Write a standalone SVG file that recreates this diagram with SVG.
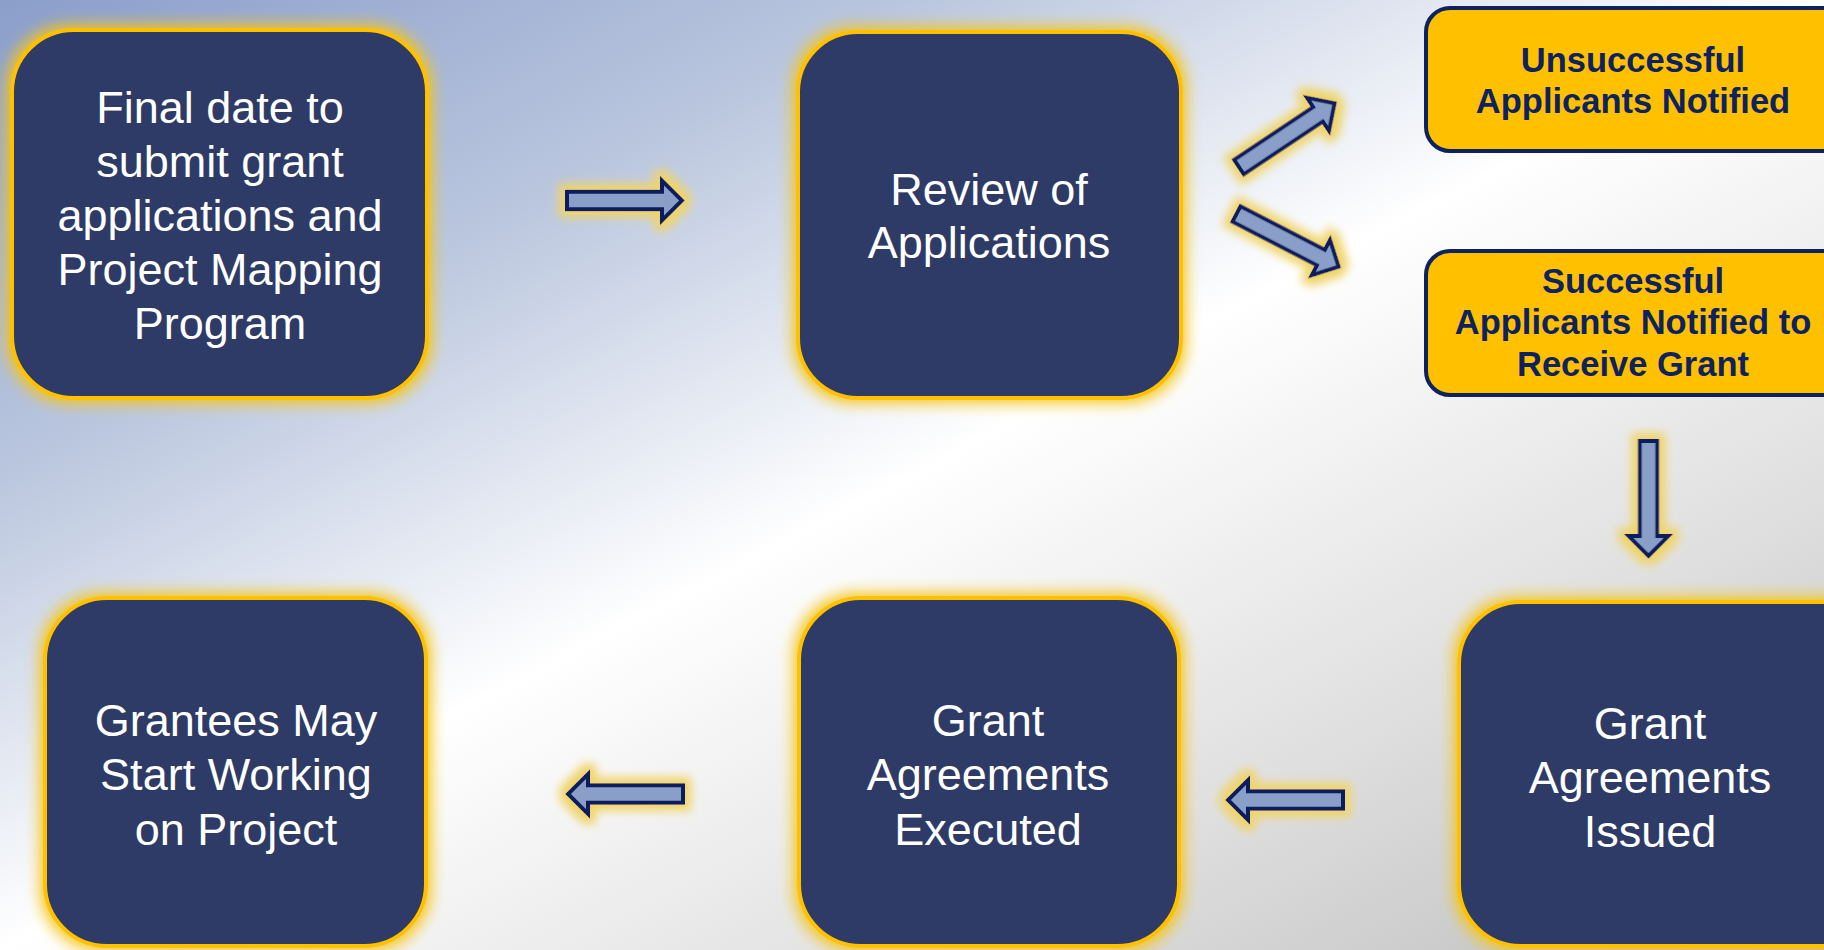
<svg xmlns="http://www.w3.org/2000/svg" width="1824" height="950" viewBox="0 0 1824 950">
  <defs>
    <linearGradient id="bg" x1="0" y1="0" x2="1" y2="1">
      <stop offset="0" stop-color="#8b9ecb"/>
      <stop offset="0.25" stop-color="#bac6de"/>
      <stop offset="0.5" stop-color="#ffffff"/>
      <stop offset="0.75" stop-color="#e0e0e0"/>
      <stop offset="1" stop-color="#bdbdbd"/>
    </linearGradient>
    <filter id="glow" x="-20%" y="-20%" width="140%" height="140%">
      <feMorphology in="SourceAlpha" operator="dilate" radius="4" result="d"/>
      <feGaussianBlur in="d" stdDeviation="7" result="b"/>
      <feFlood flood-color="#f5c518" flood-opacity="0.9"/>
      <feComposite in2="b" operator="in" result="g"/>
      <feMerge>
        <feMergeNode in="g"/>
        <feMergeNode in="SourceGraphic"/>
      </feMerge>
    </filter>
    <filter id="aglow" x="-50%" y="-100%" width="200%" height="300%">
      <feMorphology in="SourceAlpha" operator="dilate" radius="6" result="d"/>
      <feGaussianBlur in="d" stdDeviation="5" result="b"/>
      <feFlood flood-color="#f0d468" flood-opacity="1"/>
      <feComposite in2="b" operator="in" result="g"/>
      <feMerge>
        <feMergeNode in="g"/>
        <feMergeNode in="SourceGraphic"/>
      </feMerge>
    </filter>
    <path id="arr" d="M0,-8.75 H95 V-20 L115,0 L95,20 V8.75 H0 Z"/>
  </defs>
  <style>
    .node rect { fill: #2d3a66; stroke: #ffc000; stroke-width: 4; }
    .node text { fill: #ffffff; font-family: "Liberation Sans", Arial, sans-serif; font-size: 45px; text-anchor: middle; }
    .note rect { fill: #ffc000; stroke: #0d2260; stroke-width: 4; }
    .note text { fill: #0d2260; font-family: "Liberation Sans", Arial, sans-serif; font-weight: bold; font-size: 34.5px; text-anchor: middle; }
    .conn use { fill: #8a9fc8; stroke: #0c1f5e; stroke-width: 4; stroke-linejoin: miter; }
  </style>
  <rect x="0" y="0" width="1824" height="950" fill="url(#bg)"/>

  <g id="connectors" class="conn">
    <use href="#arr" transform="translate(567,200.5)" filter="url(#aglow)"/>
    <use href="#arr" transform="translate(1239,167) rotate(-33.7)" filter="url(#aglow)"/>
    <use href="#arr" transform="translate(1236.5,214) rotate(27.3)" filter="url(#aglow)"/>
    <use href="#arr" transform="translate(1648.5,441) rotate(90)" filter="url(#aglow)"/>
    <use href="#arr" transform="translate(1343,800) rotate(180)" filter="url(#aglow)"/>
    <use href="#arr" transform="translate(683,794) rotate(180)" filter="url(#aglow)"/>
  </g>

  <g id="node-final-date" class="node">
    <rect x="12" y="30" width="415" height="368" rx="62" filter="url(#glow)"/>
    <text x="220" y="123">Final date to</text>
    <text x="220" y="177">submit grant</text>
    <text x="220" y="231">applications and</text>
    <text x="220" y="285">Project Mapping</text>
    <text x="220" y="339">Program</text>
  </g>

  <g id="node-review" class="node">
    <rect x="798" y="32" width="383" height="366" rx="60" filter="url(#glow)"/>
    <text x="989" y="205">Review of</text>
    <text x="989" y="258">Applications</text>
  </g>

  <g id="node-unsuccessful" class="note">
    <rect x="1426" y="8" width="430" height="143" rx="24"/>
    <text x="1633" y="72">Unsuccessful</text>
    <text x="1633" y="113">Applicants Notified</text>
  </g>

  <g id="node-successful" class="note">
    <rect x="1426" y="251" width="430" height="144" rx="24"/>
    <text x="1633" y="293">Successful</text>
    <text x="1633" y="334">Applicants Notified to</text>
    <text x="1633" y="376">Receive Grant</text>
  </g>

  <g id="node-issued" class="node">
    <rect x="1459" y="602" width="480" height="344" rx="62" filter="url(#glow)"/>
    <text x="1650" y="739">Grant</text>
    <text x="1650" y="793">Agreements</text>
    <text x="1650" y="847">Issued</text>
  </g>

  <g id="node-executed" class="node">
    <rect x="799" y="598" width="380" height="348" rx="62" filter="url(#glow)"/>
    <text x="988" y="736">Grant</text>
    <text x="988" y="790">Agreements</text>
    <text x="988" y="845">Executed</text>
  </g>

  <g id="node-grantees" class="node">
    <rect x="45" y="598" width="381" height="348" rx="62" filter="url(#glow)"/>
    <text x="236" y="736">Grantees May</text>
    <text x="236" y="790">Start Working</text>
    <text x="236" y="845">on Project</text>
  </g>
</svg>
